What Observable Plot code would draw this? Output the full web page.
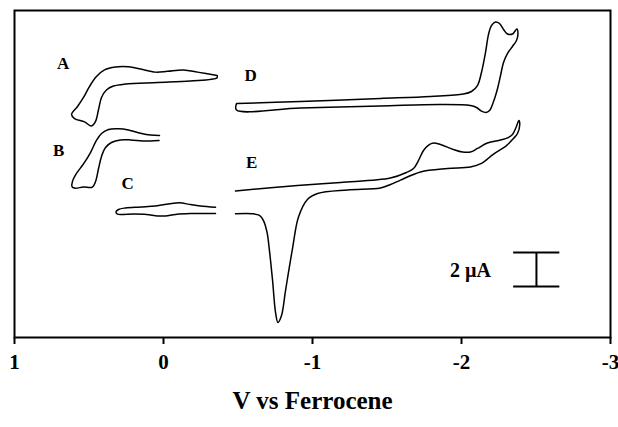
<!DOCTYPE html>
<html>
<head>
<meta charset="utf-8">
<script src="https://cdn.jsdelivr.net/npm/d3@7"></script>
<script src="https://cdn.jsdelivr.net/npm/@observablehq/plot@0.6"></script>
<style>
  html, body { margin: 0; padding: 0; background: #fff; }
  #chart svg { display: block; }
</style>
</head>
<body>
<div id="chart"></div>
<script>
// Potential (V vs Ferrocene) and current (µA, arbitrary offset) for each voltammogram
const aV = [-0.360, -0.228, -0.134, -0.027, 0.054, 0.154, 0.235, 0.322, 0.396, 0.450, 0.497, 0.537, 0.577, 0.617, 0.597, 0.530, 0.483, 0.456, 0.436, 0.416, 0.383, 0.336, 0.255, 0.040, -0.181, -0.360, -0.360];
const aI = [15.41, 15.61, 15.74, 15.66, 15.61, 15.79, 15.92, 15.91, 15.74, 15.35, 14.76, 14.12, 13.59, 13.12, 12.88, 12.68, 12.44, 12.71, 13.41, 14.12, 14.56, 14.79, 14.91, 15.00, 15.09, 15.28, 15.41];

const bV = [0.027, 0.087, 0.154, 0.235, 0.302, 0.369, 0.416, 0.450, 0.490, 0.537, 0.584, 0.611, 0.614, 0.597, 0.537, 0.477, 0.456, 0.436, 0.416, 0.389, 0.349, 0.289, 0.221, 0.141, 0.087, 0.030];
const bI = [11.88, 11.91, 12.02, 12.21, 12.28, 12.24, 12.00, 11.59, 10.88, 10.21, 9.65, 9.18, 8.88, 8.79, 8.85, 8.85, 9.18, 9.94, 10.65, 11.18, 11.47, 11.62, 11.62, 11.56, 11.56, 11.59];

const cV = [-0.349, -0.248, -0.181, -0.107, -0.034, 0.054, 0.154, 0.255, 0.302, 0.319, 0.309, 0.275, 0.201, 0.114, 0.040, -0.013, -0.081, -0.181, -0.349];
const cI = [7.66, 7.74, 7.82, 7.92, 7.85, 7.74, 7.68, 7.62, 7.53, 7.38, 7.26, 7.24, 7.26, 7.24, 7.15, 7.15, 7.24, 7.29, 7.29];

const dV = [-0.490, -0.919, -1.456, -1.792, -2.013, -2.067, -2.107, -2.134, -2.161, -2.181, -2.201, -2.228, -2.255, -2.282, -2.309, -2.342, -2.372, -2.379, -2.369, -2.342, -2.309, -2.282, -2.262, -2.242, -2.215, -2.188, -2.164, -2.134, -2.101, -2.060, -1.859, -1.456, -0.919, -0.490, -0.490];
const dI = [13.76, 13.88, 14.06, 14.18, 14.32, 14.47, 14.82, 15.59, 16.76, 17.82, 18.35, 18.56, 18.47, 18.12, 17.85, 17.85, 18.15, 17.88, 17.47, 17.12, 16.71, 16.18, 15.41, 14.65, 13.88, 13.35, 13.24, 13.32, 13.53, 13.65, 13.71, 13.62, 13.50, 13.38, 13.76];

const eV = [-0.483, -0.899, -1.188, -1.523, -1.631, -1.678, -1.711, -1.745, -1.779, -1.812, -1.859, -1.946, -2.007, -2.060, -2.107, -2.174, -2.262, -2.309, -2.342, -2.366, -2.385, -2.391, -2.376, -2.349, -2.302, -2.215, -2.134, -2.060, -1.906, -1.725, -1.591, -1.523, -1.456, -1.235, -1.034, -0.966, -0.906, -0.866, -0.819, -0.792, -0.768, -0.752, -0.732, -0.711, -0.695, -0.671, -0.644, -0.597, -0.483];
const eI = [8.62, 8.94, 9.12, 9.38, 9.71, 9.94, 10.41, 11.00, 11.32, 11.44, 11.35, 11.06, 10.91, 10.91, 11.12, 11.44, 11.62, 11.74, 11.94, 12.35, 12.76, 12.53, 12.00, 11.71, 11.29, 10.79, 10.24, 10.03, 9.94, 9.74, 9.26, 9.00, 8.79, 8.68, 8.47, 8.12, 7.09, 5.24, 2.76, 1.29, 0.88, 1.47, 3.35, 5.12, 6.18, 6.88, 7.18, 7.28, 7.28];

// Curve labels
const labelNames = ["A", "B", "C", "D", "E"];
const labelV = [0.673, 0.703, 0.240, -0.584, -0.591];
const labelI = [16.10, 11.00, 9.04, 15.41, 10.32];

// Axis ticks
const xTicks = [1, 0, -1, -2, -3];
const xDomain = [1, -3];
const yDomain = [0, 19.235];

// Current scale bar (2 µA)
const barLabel = "2 \u00b5A";
const barLevels = [3.0, 5.0];
const barCenterV = -2.503;
const barLeftV = -2.35;
const barRightV = -2.66;
const barLabelV = -2.06;
const barLabelI = 3.94;

const xTitle = "V vs Ferrocene";

const curves = [["A", aV, aI], ["B", bV, bI], ["C", cV, cI], ["D", dV, dI], ["E", eV, eI]];
const table = curves.flatMap(([name, vs, is]) => vs.map((v, i) => ({curve: name, v, i: is[i]})));
const labels = labelNames.map((n, k) => ({name: n, v: labelV[k], i: labelI[k]}));

const serif = "'Liberation Serif', 'DejaVu Serif', serif";

const chart = Plot.plot({
  width: 618,
  height: 427,
  marginTop: 10,
  marginLeft: 14,
  marginRight: 8,
  marginBottom: 90,
  style: {fontFamily: serif, background: "#fff", color: "#000"},
  x: {domain: xDomain, ticks: xTicks},
  y: {domain: yDomain, axis: null},
  marks: [
    Plot.frame({stroke: "#000", strokeWidth: 2}),
    Plot.axisX({ticks: xTicks, tickSize: 7, tickPadding: 10, strokeWidth: 2, fontSize: 21, fontWeight: "bold", tickFormat: d => `${d}`, label: null, fill: "#000"}),
    Plot.line(table, {x: "v", y: "i", z: "curve", curve: "catmull-rom", stroke: "#000", strokeWidth: 1.5}),
    Plot.text(labels, {x: "v", y: "i", text: "name", fontSize: 17, fontWeight: "bold", fill: "#000"}),
    Plot.ruleY(barLevels, {x1: barLeftV, x2: barRightV, stroke: "#000", strokeWidth: 2}),
    Plot.ruleX([barCenterV], {y1: barLevels[0], y2: barLevels[1], stroke: "#000", strokeWidth: 2}),
    Plot.text([barLabel], {x: barLabelV, y: barLabelI, text: d => d, fontSize: 20, fontWeight: "bold", fill: "#000"}),
    Plot.text([xTitle], {frameAnchor: "bottom", dy: 71, text: d => d, fontSize: 25, fontWeight: "bold", fill: "#000"})
  ]
});
document.getElementById("chart").appendChild(chart);
</script>
</body>
</html>
